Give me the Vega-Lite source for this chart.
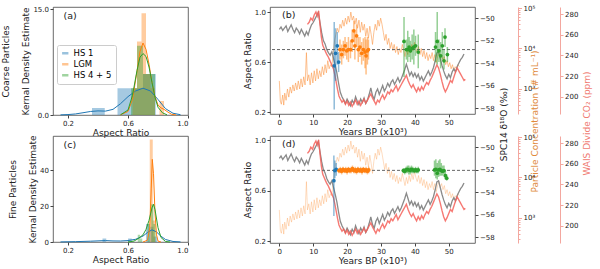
{
"$schema": "https://vega.github.io/schema/vega-lite/v6.json",
"padding": {"left": 1, "top": 3, "right": 2, "bottom": 2},
"background": "white",
"config": {
  "font": "DejaVu Sans",
  "view": {"stroke": "#444", "strokeWidth": 0.8},
  "axis": {"grid": false, "labelOverlap": false, "labelSeparation": -1000, "labelFontSize": 7, "titleFontSize": 9, "titleFontWeight": "normal", "labelColor": "#222", "titleColor": "#222", "tickColor": "#444", "domain": false, "tickSize": 3, "labelPadding": 1.5, "titlePadding": 2, "labelFont": "DejaVu Sans", "titleFont": "DejaVu Sans"},
  "text": {"font": "DejaVu Sans"}
},
"datasets": {
  "d18o": [
    {"t":0,"v":-51.0},{"t":0.5,"v":-50.8},{"t":1,"v":-51.1},{"t":1.5,"v":-50.9},{"t":2,"v":-50.7},{"t":2.5,"v":-51.2},{"t":3,"v":-50.9},{"t":3.5,"v":-50.6},{"t":4,"v":-51.0},{"t":4.5,"v":-51.3},{"t":5,"v":-50.9},{"t":5.5,"v":-51.1},{"t":6,"v":-51.4},{"t":6.5,"v":-51.0},{"t":7,"v":-51.3},{"t":7.5,"v":-51.6},{"t":8,"v":-51.2},{"t":8.5,"v":-51.5},{"t":9,"v":-51.0},{"t":9.5,"v":-50.6},{"t":10,"v":-50.4},{"t":10.5,"v":-50.1},{"t":11,"v":-49.8},{"t":11.5,"v":-49.5},{"t":12,"v":-50.4},{"t":12.5,"v":-51.3},{"t":13,"v":-52.0},{"t":13.5,"v":-52.3},{"t":14,"v":-52.8},{"t":14.5,"v":-53.1},{"t":15,"v":-53.3},{"t":15.5,"v":-53.0},{"t":16,"v":-53.6},{"t":16.5,"v":-54.2},{"t":17,"v":-54.9},{"t":17.5,"v":-55.8},{"t":18,"v":-56.6},{"t":18.5,"v":-57.0},{"t":19,"v":-57.3},{"t":19.5,"v":-57.6},{"t":20,"v":-57.2},{"t":20.5,"v":-57.5},{"t":21,"v":-57.8},{"t":21.5,"v":-57.3},{"t":22,"v":-57.6},{"t":22.5,"v":-57.0},{"t":23,"v":-57.4},{"t":23.5,"v":-57.7},{"t":24,"v":-57.2},{"t":24.5,"v":-57.5},{"t":25,"v":-57.1},{"t":25.5,"v":-57.6},{"t":26,"v":-57.3},{"t":26.5,"v":-56.8},{"t":27,"v":-56.2},{"t":27.5,"v":-56.9},{"t":28,"v":-57.2},{"t":28.5,"v":-56.6},{"t":29,"v":-56.3},{"t":29.5,"v":-56.8},{"t":30,"v":-56.4},{"t":30.5,"v":-56.0},{"t":31,"v":-56.5},{"t":31.5,"v":-56.2},{"t":32,"v":-55.8},{"t":32.5,"v":-56.1},{"t":33,"v":-55.7},{"t":33.5,"v":-55.5},{"t":34,"v":-55.9},{"t":34.5,"v":-55.6},{"t":35,"v":-55.3},{"t":35.5,"v":-55.7},{"t":36,"v":-55.4},{"t":36.5,"v":-55.0},{"t":37,"v":-54.6},{"t":37.5,"v":-54.1},{"t":38,"v":-54.6},{"t":38.5,"v":-55.1},{"t":39,"v":-54.8},{"t":39.5,"v":-55.2},{"t":40,"v":-54.9},{"t":40.5,"v":-55.3},{"t":41,"v":-55.0},{"t":41.5,"v":-55.5},{"t":42,"v":-55.2},{"t":42.5,"v":-55.6},{"t":43,"v":-55.3},{"t":43.5,"v":-55.0},{"t":44,"v":-54.7},{"t":44.5,"v":-55.1},{"t":45,"v":-54.8},{"t":45.5,"v":-54.4},{"t":46,"v":-53.8},{"t":46.5,"v":-53.1},{"t":47,"v":-53.0},{"t":47.5,"v":-53.6},{"t":48,"v":-54.2},{"t":48.5,"v":-54.7},{"t":49,"v":-55.1},{"t":49.5,"v":-55.4},{"t":50,"v":-55.0},{"t":50.5,"v":-55.3},{"t":51,"v":-54.8},{"t":51.5,"v":-54.5},{"t":52,"v":-54.8},{"t":52.5,"v":-54.3},{"t":53,"v":-54.0},{"t":53.5,"v":-53.7},{"t":54,"v":-53.5},{"t":54.5,"v":-53.2}
  ],
  "co2": [
    {"t":8.3,"v":270},{"t":8.8,"v":272},{"t":9.3,"v":276},{"t":9.8,"v":274},{"t":10.3,"v":279},{"t":10.8,"v":282},{"t":11.2,"v":278},{"t":11.6,"v":283},{"t":12.0,"v":270},{"t":12.4,"v":258},{"t":12.8,"v":250},{"t":13.2,"v":247},{"t":13.6,"v":244},{"t":14.0,"v":241},{"t":14.4,"v":239},{"t":14.8,"v":236},{"t":15.2,"v":233},{"t":15.6,"v":230},{"t":16.0,"v":227},{"t":16.4,"v":221},{"t":16.8,"v":214},{"t":17.2,"v":207},{"t":17.6,"v":201},{"t":18.0,"v":198},{"t":18.5,"v":195},{"t":19.0,"v":197},{"t":19.5,"v":193},{"t":20,"v":196},{"t":20.5,"v":192},{"t":21,"v":195},{"t":21.5,"v":191},{"t":22,"v":194},{"t":22.5,"v":197},{"t":23,"v":193},{"t":23.5,"v":196},{"t":24,"v":192},{"t":24.5,"v":195},{"t":25,"v":198},{"t":25.5,"v":194},{"t":26,"v":197},{"t":26.5,"v":200},{"t":27,"v":203},{"t":27.5,"v":199},{"t":28,"v":196},{"t":28.5,"v":193},{"t":29,"v":197},{"t":29.5,"v":195},{"t":30,"v":199},{"t":30.5,"v":202},{"t":31,"v":198},{"t":31.5,"v":201},{"t":32,"v":205},{"t":32.5,"v":203},{"t":33,"v":207},{"t":33.5,"v":205},{"t":34,"v":208},{"t":34.5,"v":211},{"t":35,"v":206},{"t":35.5,"v":209},{"t":36,"v":212},{"t":36.5,"v":215},{"t":37,"v":218},{"t":37.5,"v":221},{"t":38,"v":216},{"t":38.5,"v":212},{"t":39,"v":209},{"t":39.5,"v":212},{"t":40,"v":208},{"t":40.5,"v":205},{"t":41,"v":209},{"t":41.5,"v":206},{"t":42,"v":210},{"t":42.5,"v":207},{"t":43,"v":211},{"t":43.5,"v":214},{"t":44,"v":212},{"t":44.5,"v":216},{"t":45,"v":219},{"t":45.5,"v":223},{"t":46,"v":227},{"t":46.5,"v":231},{"t":47,"v":228},{"t":47.5,"v":222},{"t":48,"v":215},{"t":48.5,"v":209},{"t":49,"v":205},{"t":49.5,"v":208},{"t":50,"v":212},{"t":50.5,"v":216},{"t":51,"v":214},{"t":51.5,"v":219},{"t":52,"v":224},{"t":52.5,"v":228},{"t":53,"v":225},{"t":53.5,"v":222},{"t":54,"v":219},{"t":54.5,"v":216},{"t":54.9,"v":217}
  ],
  "conc": [
    {"t":0,"v":1580},{"t":0.3,"v":500},{"t":0.6,"v":420},{"t":1.0,"v":710},{"t":1.3,"v":400},{"t":1.6,"v":790},{"t":2.0,"v":525},{"t":2.4,"v":1000},{"t":2.8,"v":630},{"t":3.2,"v":1120},{"t":3.6,"v":790},{"t":4.0,"v":1260},{"t":4.4,"v":890},{"t":4.8,"v":1410},{"t":5.2,"v":950},{"t":5.6,"v":1580},{"t":6.0,"v":1000},{"t":6.4,"v":1780},{"t":6.8,"v":1120},{"t":7.2,"v":2000},{"t":7.6,"v":1260},{"t":8.0,"v":7900},{"t":8.3,"v":1580},{"t":8.7,"v":2240},{"t":9.1,"v":1260},{"t":9.5,"v":2510},{"t":9.9,"v":1410},{"t":10.3,"v":2820},{"t":10.7,"v":1580},{"t":11.1,"v":3160},{"t":11.5,"v":1780},{"t":11.9,"v":2820},{"t":12.3,"v":2000},{"t":12.7,"v":3550},{"t":13.1,"v":2240},{"t":13.5,"v":3980},{"t":13.9,"v":2510},{"t":14.3,"v":5010},{"t":14.7,"v":3160},{"t":15.1,"v":3980},{"t":15.5,"v":3550},{"t":15.9,"v":7940},{"t":16.3,"v":15800},{"t":16.7,"v":22400},{"t":17.1,"v":31600},{"t":17.5,"v":25100},{"t":17.9,"v":39800},{"t":18.3,"v":31600},{"t":18.7,"v":50100},{"t":19.1,"v":35500},{"t":19.5,"v":56200},{"t":19.9,"v":39800},{"t":20.3,"v":63100},{"t":20.7,"v":44700},{"t":21.1,"v":79400},{"t":21.5,"v":50100},{"t":21.9,"v":63100},{"t":22.3,"v":39800},{"t":22.7,"v":56200},{"t":23.1,"v":31600},{"t":23.5,"v":50100},{"t":23.9,"v":25100},{"t":24.3,"v":44700},{"t":24.7,"v":28200},{"t":25.1,"v":39800},{"t":25.5,"v":20000},{"t":25.9,"v":31600},{"t":26.3,"v":17800},{"t":26.7,"v":35500},{"t":27.1,"v":22400},{"t":27.5,"v":12600},{"t":27.9,"v":25100},{"t":28.3,"v":39800},{"t":28.7,"v":28200},{"t":29.1,"v":50100},{"t":29.5,"v":35500},{"t":29.9,"v":56200},{"t":30.3,"v":39800},{"t":30.7,"v":25100},{"t":31.1,"v":15800},{"t":31.5,"v":22400},{"t":31.9,"v":12600},{"t":32.3,"v":17800},{"t":32.7,"v":10000},{"t":33.1,"v":14100},{"t":33.5,"v":8910},{"t":33.9,"v":12600},{"t":34.3,"v":7940},{"t":34.7,"v":11200},{"t":35.1,"v":7080},{"t":35.5,"v":10000},{"t":35.9,"v":7940},{"t":36.3,"v":12600},{"t":36.7,"v":8910},{"t":37.1,"v":6310},{"t":37.5,"v":10000},{"t":37.9,"v":7080},{"t":38.3,"v":11200},{"t":38.7,"v":7940},{"t":39.1,"v":12600},{"t":39.5,"v":8910},{"t":39.9,"v":14100},{"t":40.3,"v":10000},{"t":40.7,"v":7940},{"t":41.1,"v":11200},{"t":41.5,"v":7080},{"t":41.9,"v":10000},{"t":42.3,"v":6310},{"t":42.7,"v":8910},{"t":43.1,"v":5620},{"t":43.5,"v":7940},{"t":43.9,"v":5010},{"t":44.3,"v":7080},{"t":44.7,"v":5620},{"t":45.1,"v":7940},{"t":45.5,"v":5010},{"t":45.9,"v":7080},{"t":46.3,"v":4470},{"t":46.7,"v":6310},{"t":47.1,"v":7940},{"t":47.5,"v":5620},{"t":47.9,"v":7080},{"t":48.3,"v":5010},{"t":48.7,"v":6310},{"t":49.1,"v":3980},{"t":49.5,"v":5010},{"t":49.9,"v":3550},{"t":50.3,"v":4470},{"t":50.7,"v":3160},{"t":51.1,"v":3980},{"t":51.5,"v":2820},{"t":51.9,"v":3550},{"t":52.3,"v":3160},{"t":52.7,"v":3980},{"t":53.1,"v":3550}
  ],
  "arC": [
    {"g":"HS 1","t":16.2,"ar":0.57,"lo":0.22,"hi":0.92},{"g":"HS 1","t":16.6,"ar":0.67,"lo":0.45,"hi":0.87},{"g":"HS 1","t":17.1,"ar":0.73,"lo":0.58,"hi":0.84},{"g":"HS 1","t":17.5,"ar":0.60,"lo":0.52,"hi":0.68},
    {"g":"LGM","t":17.9,"ar":0.70,"lo":0.62,"hi":0.78},{"g":"LGM","t":18.4,"ar":0.66,"lo":0.58,"hi":0.74},{"g":"LGM","t":18.9,"ar":0.70,"lo":0.63,"hi":0.77},{"g":"LGM","t":19.4,"ar":0.73,"lo":0.65,"hi":0.80},{"g":"LGM","t":19.9,"ar":0.69,"lo":0.62,"hi":0.76},{"g":"LGM","t":20.4,"ar":0.70,"lo":0.60,"hi":0.80},{"g":"LGM","t":21.0,"ar":0.70,"lo":0.63,"hi":0.77},{"g":"LGM","t":21.5,"ar":0.77,"lo":0.68,"hi":0.86},{"g":"LGM","t":22.0,"ar":0.85,"lo":0.76,"hi":0.93},{"g":"LGM","t":22.3,"ar":0.73,"lo":0.62,"hi":0.84},{"g":"LGM","t":22.8,"ar":0.81,"lo":0.72,"hi":0.90},{"g":"LGM","t":23.3,"ar":0.70,"lo":0.60,"hi":0.80},{"g":"LGM","t":23.8,"ar":0.72,"lo":0.64,"hi":0.80},{"g":"LGM","t":24.3,"ar":0.67,"lo":0.58,"hi":0.76},{"g":"LGM","t":24.8,"ar":0.70,"lo":0.61,"hi":0.79},{"g":"LGM","t":25.3,"ar":0.68,"lo":0.55,"hi":0.80},{"g":"LGM","t":25.6,"ar":0.65,"lo":0.50,"hi":0.78},{"g":"LGM","t":26.0,"ar":0.69,"lo":0.58,"hi":0.80},{"g":"LGM","t":26.3,"ar":0.70,"lo":0.62,"hi":0.78},
    {"g":"HS 4 + 5","t":36.8,"ar":0.765,"lo":0.48,"hi":0.96},{"g":"HS 4 + 5","t":37.5,"ar":0.70,"lo":0.62,"hi":0.78},{"g":"HS 4 + 5","t":37.9,"ar":0.70,"lo":0.60,"hi":0.85},{"g":"HS 4 + 5","t":38.3,"ar":0.72,"lo":0.64,"hi":0.80},{"g":"HS 4 + 5","t":38.7,"ar":0.69,"lo":0.60,"hi":0.77},{"g":"HS 4 + 5","t":39.2,"ar":0.71,"lo":0.62,"hi":0.82},{"g":"HS 4 + 5","t":39.7,"ar":0.72,"lo":0.58,"hi":0.86},{"g":"HS 4 + 5","t":40.2,"ar":0.73,"lo":0.65,"hi":0.81},{"g":"HS 4 + 5","t":41.0,"ar":0.68,"lo":0.55,"hi":0.82},{"g":"HS 4 + 5","t":46.1,"ar":0.72,"lo":0.60,"hi":0.84},{"g":"HS 4 + 5","t":46.6,"ar":0.765,"lo":0.58,"hi":1.0},{"g":"HS 4 + 5","t":47.1,"ar":0.69,"lo":0.60,"hi":0.78},{"g":"HS 4 + 5","t":47.6,"ar":0.65,"lo":0.55,"hi":0.76},{"g":"HS 4 + 5","t":48.1,"ar":0.73,"lo":0.62,"hi":0.84},{"g":"HS 4 + 5","t":48.6,"ar":0.61,"lo":0.54,"hi":0.70},{"g":"HS 4 + 5","t":48.9,"ar":0.80,"lo":0.72,"hi":0.87},{"g":"HS 4 + 5","t":49.6,"ar":0.66,"lo":0.60,"hi":0.72}
  ],
  "arF": [
    {"g":"HS 1","t":16.1,"ar":0.68,"lo":0.40,"hi":0.88},{"g":"HS 1","t":16.4,"ar":0.76,"lo":0.70,"hi":0.84},{"g":"HS 1","t":16.8,"ar":0.77,"lo":0.72,"hi":0.82},
    {"g":"LGM","t":17.6,"ar":0.76,"lo":0.74,"hi":0.78},{"g":"LGM","t":18.0,"ar":0.765,"lo":0.74,"hi":0.79},{"g":"LGM","t":18.4,"ar":0.755,"lo":0.73,"hi":0.78},{"g":"LGM","t":18.8,"ar":0.77,"lo":0.75,"hi":0.79},{"g":"LGM","t":19.2,"ar":0.76,"lo":0.74,"hi":0.78},{"g":"LGM","t":19.6,"ar":0.765,"lo":0.74,"hi":0.79},{"g":"LGM","t":20.0,"ar":0.755,"lo":0.73,"hi":0.78},{"g":"LGM","t":20.4,"ar":0.77,"lo":0.75,"hi":0.79},{"g":"LGM","t":20.8,"ar":0.76,"lo":0.74,"hi":0.78},{"g":"LGM","t":21.2,"ar":0.765,"lo":0.74,"hi":0.79},{"g":"LGM","t":21.6,"ar":0.775,"lo":0.75,"hi":0.80},{"g":"LGM","t":22.0,"ar":0.76,"lo":0.74,"hi":0.78},{"g":"LGM","t":22.4,"ar":0.765,"lo":0.74,"hi":0.79},{"g":"LGM","t":22.8,"ar":0.755,"lo":0.73,"hi":0.78},{"g":"LGM","t":23.2,"ar":0.77,"lo":0.75,"hi":0.79},{"g":"LGM","t":23.6,"ar":0.76,"lo":0.74,"hi":0.78},{"g":"LGM","t":24.0,"ar":0.765,"lo":0.74,"hi":0.79},{"g":"LGM","t":24.4,"ar":0.755,"lo":0.73,"hi":0.78},{"g":"LGM","t":24.8,"ar":0.77,"lo":0.75,"hi":0.79},{"g":"LGM","t":25.2,"ar":0.76,"lo":0.74,"hi":0.78},{"g":"LGM","t":25.6,"ar":0.765,"lo":0.74,"hi":0.79},{"g":"LGM","t":26.0,"ar":0.755,"lo":0.73,"hi":0.78},{"g":"LGM","t":26.4,"ar":0.765,"lo":0.74,"hi":0.79},
    {"g":"HS 4 + 5","t":36.6,"ar":0.76,"lo":0.74,"hi":0.78},{"g":"HS 4 + 5","t":37.0,"ar":0.755,"lo":0.73,"hi":0.78},{"g":"HS 4 + 5","t":37.4,"ar":0.765,"lo":0.74,"hi":0.79},{"g":"HS 4 + 5","t":37.8,"ar":0.77,"lo":0.74,"hi":0.80},{"g":"HS 4 + 5","t":38.2,"ar":0.765,"lo":0.73,"hi":0.80},{"g":"HS 4 + 5","t":38.6,"ar":0.76,"lo":0.73,"hi":0.79},{"g":"HS 4 + 5","t":39.0,"ar":0.77,"lo":0.74,"hi":0.80},{"g":"HS 4 + 5","t":39.4,"ar":0.765,"lo":0.74,"hi":0.79},{"g":"HS 4 + 5","t":39.8,"ar":0.76,"lo":0.74,"hi":0.78},{"g":"HS 4 + 5","t":40.2,"ar":0.765,"lo":0.74,"hi":0.79},{"g":"HS 4 + 5","t":40.6,"ar":0.76,"lo":0.74,"hi":0.78},{"g":"HS 4 + 5","t":41.0,"ar":0.765,"lo":0.74,"hi":0.79},{"g":"HS 4 + 5","t":45.8,"ar":0.765,"lo":0.72,"hi":0.84},{"g":"HS 4 + 5","t":46.2,"ar":0.77,"lo":0.70,"hi":0.85},{"g":"HS 4 + 5","t":46.6,"ar":0.74,"lo":0.69,"hi":0.82},{"g":"HS 4 + 5","t":47.0,"ar":0.765,"lo":0.71,"hi":0.84},{"g":"HS 4 + 5","t":47.4,"ar":0.77,"lo":0.72,"hi":0.85},{"g":"HS 4 + 5","t":47.8,"ar":0.76,"lo":0.72,"hi":0.82},{"g":"HS 4 + 5","t":48.2,"ar":0.755,"lo":0.72,"hi":0.80},{"g":"HS 4 + 5","t":48.6,"ar":0.76,"lo":0.73,"hi":0.80},{"g":"HS 4 + 5","t":49.0,"ar":0.72,"lo":0.69,"hi":0.76},{"g":"HS 4 + 5","t":49.4,"ar":0.70,"lo":0.68,"hi":0.73}
  ],
  "histC": [
    {"g":"HS 1","x":0.36,"d":1.0},{"g":"HS 1","x":0.445,"d":0},{"g":"HS 1","x":0.53,"d":3.8},{"g":"HS 1","x":0.615,"d":3.8},{"g":"HS 1","x":0.70,"d":5.8},{"g":"HS 1","x":0.785,"d":0},
    {"g":"LGM","x":0.63,"d":3.8},{"g":"LGM","x":0.66,"d":10.4},{"g":"LGM","x":0.69,"d":14.4},{"g":"LGM","x":0.72,"d":5.8},{"g":"LGM","x":0.75,"d":3.8},{"g":"LGM","x":0.78,"d":0},{"g":"LGM","x":0.81,"d":2.0},{"g":"LGM","x":0.84,"d":0},
    {"g":"HS 4 + 5","x":0.62,"d":3.8},{"g":"HS 4 + 5","x":0.66,"d":9.8},{"g":"HS 4 + 5","x":0.70,"d":5.8},{"g":"HS 4 + 5","x":0.74,"d":5.8},{"g":"HS 4 + 5","x":0.78,"d":0}
  ],
  "histF": [
    {"g":"HS 1","x":0.43,"d":2.0},{"g":"HS 1","x":0.455,"d":0},{"g":"HS 1","x":0.60,"d":2.0},{"g":"HS 1","x":0.625,"d":0},{"g":"HS 1","x":0.72,"d":10},{"g":"HS 1","x":0.745,"d":8.5},{"g":"HS 1","x":0.77,"d":3},{"g":"HS 1","x":0.795,"d":0},
    {"g":"LGM","x":0.745,"d":57},{"g":"LGM","x":0.765,"d":12},{"g":"LGM","x":0.78,"d":0},
    {"g":"HS 4 + 5","x":0.665,"d":4},{"g":"HS 4 + 5","x":0.68,"d":2},{"g":"HS 4 + 5","x":0.695,"d":0},{"g":"HS 4 + 5","x":0.73,"d":10},{"g":"HS 4 + 5","x":0.745,"d":0},{"g":"HS 4 + 5","x":0.755,"d":21},{"g":"HS 4 + 5","x":0.77,"d":10},{"g":"HS 4 + 5","x":0.785,"d":0}
  ],
  "kdeC": [
    {"g":"HS 1","x":0.15,"d":0.02},{"g":"HS 1","x":0.2,"d":0.06},{"g":"HS 1","x":0.25,"d":0.15},{"g":"HS 1","x":0.3,"d":0.32},{"g":"HS 1","x":0.35,"d":0.5},{"g":"HS 1","x":0.4,"d":0.58},{"g":"HS 1","x":0.45,"d":0.55},{"g":"HS 1","x":0.5,"d":0.8},{"g":"HS 1","x":0.55,"d":1.6},{"g":"HS 1","x":0.6,"d":2.6},{"g":"HS 1","x":0.65,"d":3.4},{"g":"HS 1","x":0.7,"d":3.8},{"g":"HS 1","x":0.75,"d":3.4},{"g":"HS 1","x":0.8,"d":2.2},{"g":"HS 1","x":0.85,"d":0.9},{"g":"HS 1","x":0.9,"d":0.25},{"g":"HS 1","x":0.95,"d":0.04},
    {"g":"LGM","x":0.55,"d":0.02},{"g":"LGM","x":0.6,"d":0.5},{"g":"LGM","x":0.63,"d":2.2},{"g":"LGM","x":0.66,"d":6.2},{"g":"LGM","x":0.68,"d":9.0},{"g":"LGM","x":0.70,"d":10.2},{"g":"LGM","x":0.72,"d":9.3},{"g":"LGM","x":0.74,"d":7.2},{"g":"LGM","x":0.76,"d":4.6},{"g":"LGM","x":0.78,"d":2.6},{"g":"LGM","x":0.80,"d":1.4},{"g":"LGM","x":0.82,"d":1.0},{"g":"LGM","x":0.84,"d":0.8},{"g":"LGM","x":0.86,"d":0.5},{"g":"LGM","x":0.89,"d":0.1},{"g":"LGM","x":0.92,"d":0.01},
    {"g":"HS 4 + 5","x":0.55,"d":0.03},{"g":"HS 4 + 5","x":0.6,"d":0.7},{"g":"HS 4 + 5","x":0.63,"d":2.8},{"g":"HS 4 + 5","x":0.66,"d":6.3},{"g":"HS 4 + 5","x":0.68,"d":8.2},{"g":"HS 4 + 5","x":0.70,"d":8.7},{"g":"HS 4 + 5","x":0.72,"d":8.3},{"g":"HS 4 + 5","x":0.74,"d":6.8},{"g":"HS 4 + 5","x":0.76,"d":4.6},{"g":"HS 4 + 5","x":0.78,"d":2.5},{"g":"HS 4 + 5","x":0.80,"d":1.1},{"g":"HS 4 + 5","x":0.83,"d":0.3},{"g":"HS 4 + 5","x":0.86,"d":0.03}
  ],
  "kdeF": [
    {"g":"HS 1","x":0.15,"d":0.05},{"g":"HS 1","x":0.25,"d":0.2},{"g":"HS 1","x":0.35,"d":0.45},{"g":"HS 1","x":0.42,"d":0.7},{"g":"HS 1","x":0.45,"d":0.8},{"g":"HS 1","x":0.5,"d":0.6},{"g":"HS 1","x":0.55,"d":0.55},{"g":"HS 1","x":0.6,"d":0.8},{"g":"HS 1","x":0.65,"d":1.5},{"g":"HS 1","x":0.7,"d":3.3},{"g":"HS 1","x":0.73,"d":5.3},{"g":"HS 1","x":0.76,"d":6.8},{"g":"HS 1","x":0.79,"d":5.6},{"g":"HS 1","x":0.82,"d":3.2},{"g":"HS 1","x":0.85,"d":1.4},{"g":"HS 1","x":0.9,"d":0.3},{"g":"HS 1","x":0.95,"d":0.05},
    {"g":"LGM","x":0.70,"d":0},{"g":"LGM","x":0.73,"d":1},{"g":"LGM","x":0.745,"d":8},{"g":"LGM","x":0.755,"d":30},{"g":"LGM","x":0.762,"d":46},{"g":"LGM","x":0.77,"d":38},{"g":"LGM","x":0.78,"d":16},{"g":"LGM","x":0.79,"d":4},{"g":"LGM","x":0.80,"d":0.5},{"g":"LGM","x":0.82,"d":0},
    {"g":"HS 4 + 5","x":0.60,"d":0},{"g":"HS 4 + 5","x":0.64,"d":0.5},{"g":"HS 4 + 5","x":0.67,"d":2},{"g":"HS 4 + 5","x":0.70,"d":4},{"g":"HS 4 + 5","x":0.72,"d":7},{"g":"HS 4 + 5","x":0.74,"d":12},{"g":"HS 4 + 5","x":0.76,"d":19},{"g":"HS 4 + 5","x":0.77,"d":21},{"g":"HS 4 + 5","x":0.78,"d":18},{"g":"HS 4 + 5","x":0.80,"d":8},{"g":"HS 4 + 5","x":0.82,"d":2.5},{"g":"HS 4 + 5","x":0.85,"d":0.3},{"g":"HS 4 + 5","x":0.88,"d":0}
  ]
},
"columns": 2,
"spacing": {"row": 21, "column": 82},
"bounds": "flush",
"resolve": {"scale": {"color": "independent"}, "legend": {"color": "independent"}},
"concat": [
  {
    "width": 135, "height": 108,
    "layer": [
      {"data": {"name": "histC"}, "mark": {"type": "area", "interpolate": "step-after", "opacity": 0.4},
       "encoding": {
         "x": {"field": "x", "type": "quantitative", "title": "Aspect Ratio", "scale": {"domain": [0.1, 1.0], "nice": false, "zero": false}, "axis": {"values": [0.2,0.4,0.6,0.8,1.0], "labelExpr": "format(datum.value, '.1f')", "labelOverlap": false, "labelSeparation": -1000}},
         "y": {"field": "d", "type": "quantitative", "stack": null, "title": ["Coarse Particles", "Kernal Density Estimate"], "scale": {"domain": [0, 15.3], "nice": false}, "axis": {"values": [0,2.5,5,7.5,10,12.5,15], "labelExpr": "format(datum.value, '.1f')", "titleLineHeight": 20, "labelOverlap": false, "labelSeparation": -1000}},
         "color": {"field": "g", "type": "nominal", "scale": {"domain": ["HS 1","LGM","HS 4 + 5"], "range": ["#1f77b4","#ff7f0e","#2ca02c"]},
           "legend": {"orient": "none", "legendX": 4, "legendY": 38, "title": null, "symbolType": "M-1,-0.4H1V0.4H-1Z", "symbolSize": 40, "symbolOpacity": 0.45, "symbolStrokeWidth": 0, "labelFontSize": 8.5, "labelFont": "DejaVu Sans", "padding": 4, "rowPadding": 2, "strokeColor": "#ccc", "fillColor": "white", "cornerRadius": 2}}
       }},
      {"data": {"name": "kdeC"}, "mark": {"type": "line", "strokeWidth": 1},
       "encoding": {
         "x": {"field": "x", "type": "quantitative", "title": "Aspect Ratio"},
         "y": {"field": "d", "type": "quantitative", "title": ["Coarse Particles", "Kernal Density Estimate"]},
         "color": {"field": "g", "type": "nominal", "legend": null}
       }},
      {"data": {"values": [{"label": "(a)"}]}, "mark": {"type": "text", "align": "left", "baseline": "middle", "fontSize": 9.5, "color": "#222"},
       "encoding": {"x": {"datum": 0.17}, "y": {"datum": 14.0}, "text": {"field": "label"}}}
    ]
  },
  {
    "width": 205, "height": 107,
    "resolve": {"scale": {"y": "independent"}},
    "layer": [
      {"data": {"name": "conc"}, "mark": {"type": "line", "color": "#fb9a4b", "opacity": 0.6, "strokeWidth": 1},
       "encoding": {
         "x": {"field": "t", "type": "quantitative", "title": "Years BP (x10³)", "scale": {"domain": [-2.75, 57.75], "nice": false, "zero": false}, "axis": {"values": [0,10,20,30,40,50], "labelOverlap": false}},
         "y": {"field": "v", "type": "quantitative", "scale": {"type": "log", "domain": [241, 105900], "nice": false},
           "axis": {"orient": "right", "offset": 43, "domain": true, "domainColor": "#f3a79f", "tickColor": "#f3a79f", "labelOverlap": false, "values": [300,400,500,600,700,800,900,1000,2000,3000,4000,5000,6000,7000,8000,9000,10000,20000,30000,40000,50000,60000,70000,80000,90000,100000],
             "labelExpr": "datum.value == 1000 ? '10³' : datum.value == 10000 ? '10⁴' : datum.value == 100000 ? '10⁵' : ''",
             "tickSize": {"condition": {"test": "datum.value == 1000 || datum.value == 10000 || datum.value == 100000", "value": 3.5}, "value": 2},
             "title": "Particle Concentration (# mL⁻¹)", "titleColor": "#e08a3c", "titleAngle": 270, "titleBaseline": "top", "titleY": 114, "titleX": 12}}
       }},
      {"data": {"name": "d18o"}, "mark": {"type": "line", "color": "#8a8a8a", "strokeWidth": 1.3},
       "encoding": {
         "x": {"field": "t", "type": "quantitative", "title": "Years BP (x10³)"},
         "y": {"field": "v", "type": "quantitative", "scale": {"domain": [-58.53, -49.02], "nice": false, "zero": false},
           "axis": {"orient": "right", "labelOverlap": false, "values": [-58,-56,-54,-52,-50], "title": "SPC14 δ¹⁸O (‰)", "titleAngle": 270, "titleBaseline": "top", "titleY": 117, "titleX": 24}}
       }},
      {"data": {"name": "co2"}, "mark": {"type": "line", "color": "#f5625a", "opacity": 0.85, "strokeWidth": 1.4},
       "encoding": {
         "x": {"field": "t", "type": "quantitative", "title": "Years BP (x10³)"},
         "y": {"field": "v", "type": "quantitative", "scale": {"domain": [183.6, 286.75], "nice": false, "zero": false},
           "axis": {"orient": "right", "offset": 85, "domain": true, "domainColor": "#f3a79f", "tickColor": "#f3a79f", "labelOverlap": false, "values": [200,220,240,260,280],
             "title": "WAIS Divide CO₂ (ppm)", "titleColor": "#f07b72", "titleAngle": 270, "titleBaseline": "top", "titleY": 116, "titleX": 22}}
       }},
      {"layer": [
         {"data": {"values": [{"ref": 0.70}]}, "mark": {"type": "rule", "strokeDash": [3,2], "color": "#666", "strokeWidth": 1},
          "encoding": {"y": {"field": "ref", "type": "quantitative", "title": "Aspect Ratio", "scale": {"domain": [0.185, 1.04], "nice": false, "zero": false}, "axis": {"orient": "left", "title": "Aspect Ratio", "values": [0.2,0.4,0.6,0.8,1.0], "labelExpr": "format(datum.value, '.1f')", "labelOverlap": false, "labelSeparation": -1000}}}},
         {"data": {"name": "arC"}, "transform": [{"fold": ["lo", "hi"], "as": ["end", "val"]}],
          "mark": {"type": "line", "strokeWidth": 1.5, "opacity": 0.5},
          "encoding": {
            "x": {"field": "t", "type": "quantitative", "title": "Years BP (x10³)"},
            "y": {"field": "val", "type": "quantitative", "title": "Aspect Ratio"},
            "detail": {"field": "t", "type": "quantitative"},
            "color": {"field": "g", "type": "nominal", "scale": {"domain": ["HS 1","LGM","HS 4 + 5"], "range": ["#1f77b4","#ff7f0e","#2ca02c"]}, "legend": null}
          }},
         {"data": {"name": "arC"}, "mark": {"type": "circle", "size": 14, "opacity": 1},
          "encoding": {
            "x": {"field": "t", "type": "quantitative", "title": "Years BP (x10³)"},
            "y": {"field": "ar", "type": "quantitative", "title": "Aspect Ratio"},
            "color": {"field": "g", "type": "nominal", "legend": null}
          }},
         {"data": {"values": [{"label": "(b)"}]}, "mark": {"type": "text", "align": "left", "baseline": "middle", "fontSize": 9.5, "color": "#222"},
          "encoding": {"x": {"datum": 0.8}, "y": {"datum": 0.98}, "text": {"field": "label"}}}
       ]}
    ]
  },
  {
    "width": 135, "height": 106,
    "layer": [
      {"data": {"name": "histF"}, "mark": {"type": "area", "interpolate": "step-after", "opacity": 0.4},
       "encoding": {
         "x": {"field": "x", "type": "quantitative", "title": "Aspect Ratio", "scale": {"domain": [0.1, 1.0], "nice": false, "zero": false}, "axis": {"values": [0.2,0.4,0.6,0.8,1.0], "labelExpr": "format(datum.value, '.1f')", "labelOverlap": false, "labelSeparation": -1000}},
         "y": {"field": "d", "type": "quantitative", "stack": null, "title": ["Fine Particles", "Kernal Density Estimate"], "scale": {"domain": [0, 59], "nice": false}, "axis": {"values": [0,10,20,30,40,50], "titleLineHeight": 20, "labelOverlap": false, "labelSeparation": -1000}},
         "color": {"field": "g", "type": "nominal", "scale": {"domain": ["HS 1","LGM","HS 4 + 5"], "range": ["#1f77b4","#ff7f0e","#2ca02c"]}, "legend": null}
       }},
      {"data": {"name": "kdeF"}, "mark": {"type": "line", "strokeWidth": 1},
       "encoding": {
         "x": {"field": "x", "type": "quantitative", "title": "Aspect Ratio"},
         "y": {"field": "d", "type": "quantitative", "title": ["Fine Particles", "Kernal Density Estimate"]},
         "color": {"field": "g", "type": "nominal", "legend": null}
       }},
      {"data": {"values": [{"label": "(c)"}]}, "mark": {"type": "text", "align": "left", "baseline": "middle", "fontSize": 9.5, "color": "#222"},
       "encoding": {"x": {"datum": 0.17}, "y": {"datum": 54}, "text": {"field": "label"}}}
    ]
  },
  {
    "width": 205, "height": 107,
    "resolve": {"scale": {"y": "independent"}},
    "layer": [
      {"data": {"name": "conc"}, "mark": {"type": "line", "color": "#fb9a4b", "opacity": 0.35, "strokeWidth": 1},
       "encoding": {
         "x": {"field": "t", "type": "quantitative", "title": "Years BP (x10³)", "scale": {"domain": [-2.75, 57.75], "nice": false, "zero": false}, "axis": {"values": [0,10,20,30,40,50], "labelOverlap": false}},
         "y": {"field": "v", "type": "quantitative", "scale": {"type": "log", "domain": [241, 105900], "nice": false},
           "axis": {"orient": "right", "offset": 43, "domain": true, "domainColor": "#f3a79f", "tickColor": "#f3a79f", "labelOverlap": false, "values": [300,400,500,600,700,800,900,1000,2000,3000,4000,5000,6000,7000,8000,9000,10000,20000,30000,40000,50000,60000,70000,80000,90000,100000],
             "labelExpr": "datum.value == 1000 ? '10³' : datum.value == 10000 ? '10⁴' : datum.value == 100000 ? '10⁵' : ''",
             "tickSize": {"condition": {"test": "datum.value == 1000 || datum.value == 10000 || datum.value == 100000", "value": 3.5}, "value": 2},
             "title": null}}
       }},
      {"data": {"name": "d18o"}, "mark": {"type": "line", "color": "#8a8a8a", "strokeWidth": 1.3},
       "encoding": {
         "x": {"field": "t", "type": "quantitative", "title": "Years BP (x10³)"},
         "y": {"field": "v", "type": "quantitative", "scale": {"domain": [-58.53, -49.02], "nice": false, "zero": false},
           "axis": {"orient": "right", "labelOverlap": false, "values": [-58,-56,-54,-52,-50], "title": null}}
       }},
      {"data": {"name": "co2"}, "mark": {"type": "line", "color": "#f5625a", "opacity": 0.85, "strokeWidth": 1.4},
       "encoding": {
         "x": {"field": "t", "type": "quantitative", "title": "Years BP (x10³)"},
         "y": {"field": "v", "type": "quantitative", "scale": {"domain": [183.6, 286.75], "nice": false, "zero": false},
           "axis": {"orient": "right", "offset": 85, "domain": true, "domainColor": "#f3a79f", "tickColor": "#f3a79f", "labelOverlap": false, "values": [200,220,240,260,280], "title": null}}
       }},
      {"layer": [
         {"data": {"values": [{"ref": 0.762}]}, "mark": {"type": "rule", "strokeDash": [3,2], "color": "#666", "strokeWidth": 1},
          "encoding": {"y": {"field": "ref", "type": "quantitative", "title": "Aspect Ratio", "scale": {"domain": [0.185, 1.035], "nice": false, "zero": false}, "axis": {"orient": "left", "title": "Aspect Ratio", "values": [0.2,0.4,0.6,0.8,1.0], "labelExpr": "format(datum.value, '.1f')", "labelOverlap": false, "labelSeparation": -1000}}}},
         {"data": {"name": "arF"}, "transform": [{"fold": ["lo", "hi"], "as": ["end", "val"]}],
          "mark": {"type": "line", "strokeWidth": 1.5, "opacity": 0.5},
          "encoding": {
            "x": {"field": "t", "type": "quantitative", "title": "Years BP (x10³)"},
            "y": {"field": "val", "type": "quantitative", "title": "Aspect Ratio"},
            "detail": {"field": "t", "type": "quantitative"},
            "color": {"field": "g", "type": "nominal", "scale": {"domain": ["HS 1","LGM","HS 4 + 5"], "range": ["#1f77b4","#ff7f0e","#2ca02c"]}, "legend": null}
          }},
         {"data": {"name": "arF"}, "mark": {"type": "circle", "size": 14, "opacity": 1},
          "encoding": {
            "x": {"field": "t", "type": "quantitative", "title": "Years BP (x10³)"},
            "y": {"field": "ar", "type": "quantitative", "title": "Aspect Ratio"},
            "color": {"field": "g", "type": "nominal", "legend": null}
          }},
         {"data": {"values": [{"label": "(d)"}]}, "mark": {"type": "text", "align": "left", "baseline": "middle", "fontSize": 9.5, "color": "#222"},
          "encoding": {"x": {"datum": 0.8}, "y": {"datum": 0.975}, "text": {"field": "label"}}}
       ]}
    ]
  }
]
}
